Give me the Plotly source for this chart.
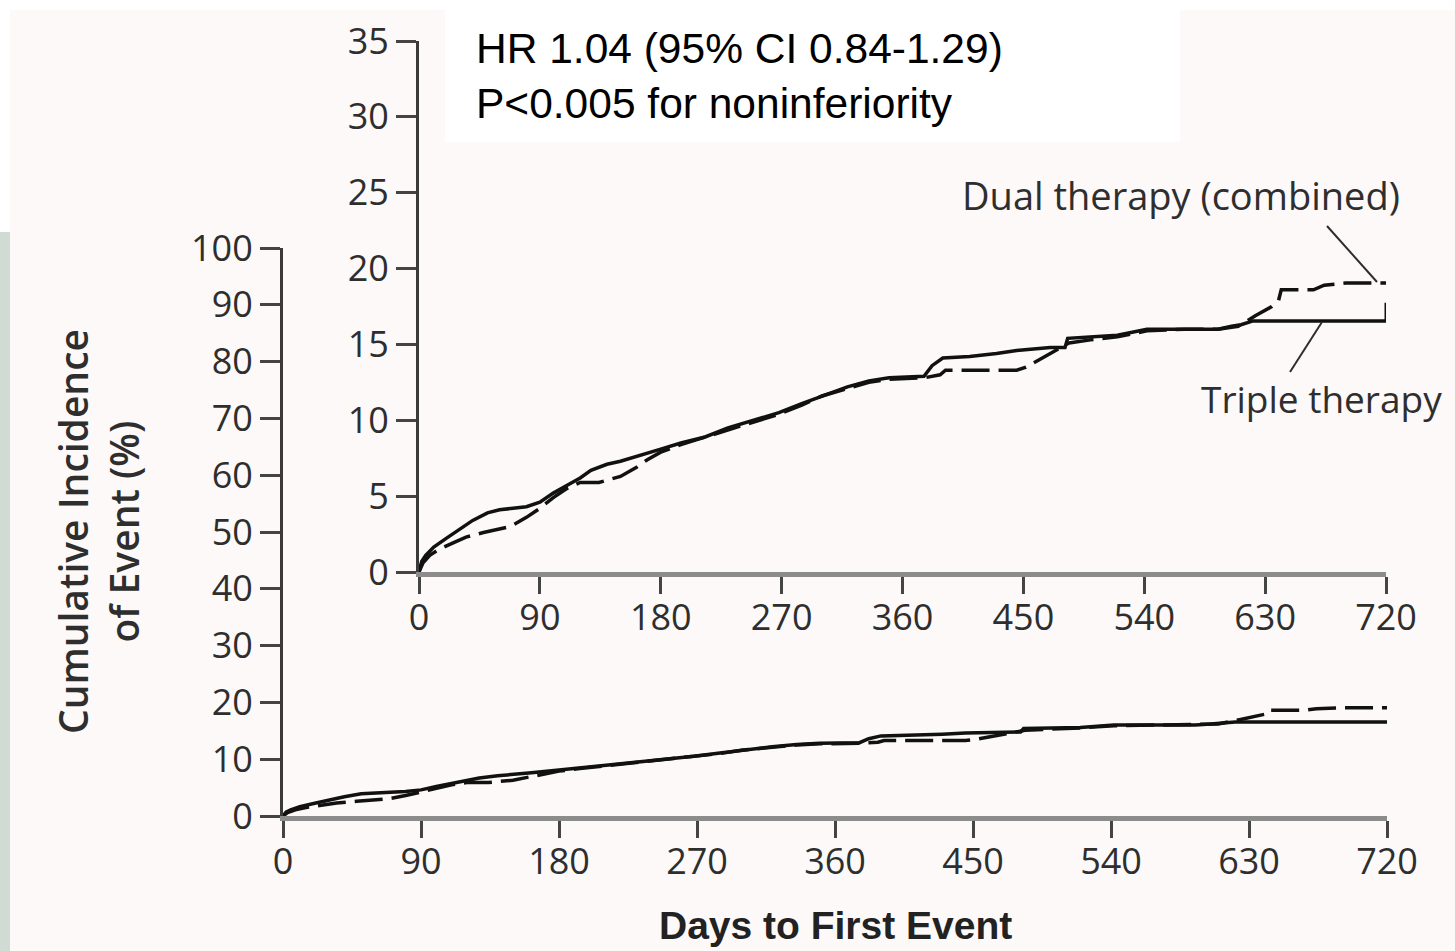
import plotly.graph_objects as go

# ---- data: cumulative incidence of the primary event (%) by day ----
triple_days = [0, 2, 5, 11, 20, 30, 40, 51, 60, 70,
               80, 90, 100, 110, 120, 128, 140, 150, 162, 180,
               195, 213, 230, 250, 268, 285, 300, 319, 335, 350,
               376, 382, 390, 410, 430, 445, 470, 481, 483, 500,
               520, 542, 570, 595, 605, 612, 621, 720]
triple_pct = [0, 0.7, 1.1, 1.65, 2.2, 2.8, 3.4, 3.9, 4.1, 4.2,
              4.3, 4.6, 5.2, 5.7, 6.2, 6.7, 7.1, 7.3, 7.6, 8.1,
              8.5, 8.9, 9.5, 10.0, 10.5, 11.1, 11.6, 12.2, 12.6, 12.8,
              12.9, 13.6, 14.1, 14.2, 14.4, 14.6, 14.8, 14.8, 15.4, 15.5,
              15.6, 16.0, 16.0, 16.0, 16.2, 16.3, 16.55, 16.55]

dual_days = [0, 3, 8, 15, 25, 35, 48, 58, 68, 80,
             90, 100, 110, 120, 134, 150, 162, 170, 180, 195,
             213, 230, 250, 268, 285, 300, 319, 335, 350, 376,
             388, 392, 420, 445, 452, 468, 484, 500, 520, 542,
             570, 595, 610, 623, 635, 640, 642, 666, 674, 690,
             720]
dual_pct = [0, 0.6, 1.1, 1.5, 1.9, 2.3, 2.6, 2.8, 3.0, 3.6,
            4.2, 4.9, 5.5, 5.9, 5.9, 6.3, 6.9, 7.4, 7.9, 8.4,
            8.9, 9.4, 9.9, 10.4, 11.0, 11.6, 12.1, 12.5, 12.7, 12.8,
            13.0, 13.3, 13.3, 13.3, 13.5, 14.3, 15.1, 15.3, 15.5, 15.9,
            16.0, 16.0, 16.2, 16.9, 17.5, 17.9, 18.6, 18.6, 18.9, 19.05,
            19.05]

x_ticks = [0, 90, 180, 270, 360, 450, 540, 630, 720]
main_y_ticks = list(range(0, 101, 10))
inset_y_ticks = list(range(0, 36, 5))

series_labels = ["Dual therapy (combined)", "Triple therapy"]
stats_text = "HR 1.04 (95% CI 0.84-1.29)<br>P<0.005 for noninferiority"
x_title = "Days to First Event"
y_title = "Cumulative Incidence<br>of Event (%)"

# ---- page geometry (pixels) ----
W, H = 1455, 951


def px(x):
    return x / W


def py(y):
    return 1 - y / H


BG = "#fcf9f8"
INK = "#111111"
TEXT = "#2e2e2e"
TICK_FONT = dict(family="Open Sans", size=36, color=TEXT)

fig = go.Figure()

solid = dict(color=INK, width=3.5)
dashed = dict(color=INK, width=3.5, dash="28px,9px")

# main panel (0-100 %)
fig.add_trace(go.Scatter(x=triple_days, y=triple_pct, mode="lines", line=solid,
                         xaxis="x", yaxis="y", showlegend=False, hoverinfo="skip"))
fig.add_trace(go.Scatter(x=dual_days, y=dual_pct, mode="lines", line=dashed,
                         xaxis="x", yaxis="y", showlegend=False, hoverinfo="skip"))

# inset panel (0-35 %)
fig.add_trace(go.Scatter(x=triple_days, y=triple_pct, mode="lines", line=solid,
                         xaxis="x2", yaxis="y2", showlegend=False, hoverinfo="skip"))
fig.add_trace(go.Scatter(x=dual_days, y=dual_pct, mode="lines", line=dashed,
                         xaxis="x2", yaxis="y2", showlegend=False, hoverinfo="skip"))
# censoring tick at the end of follow-up for triple therapy
fig.add_trace(go.Scatter(x=[triple_days[-1], triple_days[-1]],
                         y=[triple_pct[-1], triple_pct[-1] + 1.2],
                         mode="lines", line=dict(color=INK, width=3),
                         xaxis="x2", yaxis="y2", showlegend=False, hoverinfo="skip"))

xaxis_common = dict(range=[0, 720], tickvals=x_ticks, ticks="outside", ticklen=17,
                    tickwidth=3, tickcolor="#444444", showline=True,
                    linecolor="#8c8c8c", linewidth=5, showgrid=False, zeroline=False,
                    tickfont=TICK_FONT, ticklabelstandoff=-7,
                    fixedrange=True, automargin=False)
yaxis_common = dict(ticks="outside", ticklen=20, tickwidth=3, tickcolor="#444444",
                    showline=True, linecolor="#3a3a3a", linewidth=3, showgrid=False,
                    zeroline=False, tickfont=TICK_FONT, fixedrange=True, automargin=False)

shapes = [
    # white margins round the figure panel
    dict(type="rect", xref="paper", yref="paper", x0=0, x1=1, y0=py(10), y1=1,
         fillcolor="#ffffff", line=dict(width=0), layer="below"),
    dict(type="rect", xref="paper", yref="paper", x0=0, x1=px(10), y0=py(232), y1=1,
         fillcolor="#ffffff", line=dict(width=0), layer="below"),
    dict(type="rect", xref="paper", yref="paper", x0=0, x1=px(10), y0=0, y1=py(232),
         fillcolor="#cfdbd3", line=dict(width=0), layer="below"),
    # white box behind the statistics
    dict(type="rect", xref="paper", yref="paper", x0=px(445), x1=px(1180),
         y0=py(142), y1=py(10), fillcolor="#ffffff", line=dict(width=0), layer="below"),
    # leader lines for the curve labels
    dict(type="line", xref="paper", yref="paper", x0=px(1327), y0=py(226),
         x1=px(1377), y1=py(282), line=dict(color=TEXT, width=2)),
    dict(type="line", xref="paper", yref="paper", x0=px(1322), y0=py(322),
         x1=px(1290), y1=py(372), line=dict(color=TEXT, width=2)),
]

annotations = [
    dict(text=stats_text, xref="paper", yref="paper", x=px(474), y=py(76),
         xanchor="left", yanchor="middle", align="left", showarrow=False,
         font=dict(family="Liberation Sans", size=42.5, color="#000000")),
    dict(text=series_labels[0], xref="paper", yref="paper", x=px(1181), y=py(195),
         xanchor="center", yanchor="middle", showarrow=False,
         font=dict(family="Open Sans", size=38, color=TEXT)),
    dict(text=series_labels[1], xref="paper", yref="paper", x=px(1321), y=py(398),
         xanchor="center", yanchor="middle", showarrow=False,
         font=dict(family="Open Sans", size=37, color=TEXT)),
    dict(text=y_title, xref="paper", yref="paper", x=px(98), y=py(532),
         xanchor="center", yanchor="middle", textangle=-90, showarrow=False,
         font=dict(family="Open Sans", size=39, color=TEXT, weight=600)),
    dict(text=x_title, xref="paper", yref="paper", x=px(836), y=py(925),
         xanchor="center", yanchor="middle", showarrow=False,
         font=dict(family="Liberation Sans", size=39, color="#222222", weight="bold")),
]

fig.update_layout(
    width=W, height=H,
    margin=dict(l=0, r=0, t=0, b=0, pad=0, autoexpand=False),
    paper_bgcolor=BG,
    plot_bgcolor="rgba(0,0,0,0)",
    xaxis=dict(domain=[px(283), px(1387)], anchor="y", **xaxis_common),
    yaxis=dict(domain=[py(816), py(248)], anchor="x", range=[0, 100],
               tickvals=main_y_ticks, **yaxis_common),
    xaxis2=dict(domain=[px(419), px(1386)], anchor="y2", **xaxis_common),
    yaxis2=dict(domain=[py(572), py(41)], anchor="x2", range=[0, 35],
                tickvals=inset_y_ticks, **yaxis_common),
    shapes=shapes,
    annotations=annotations,
    showlegend=False,
)

fig.write_html(
    "out.html",
    config=dict(displayModeBar=False, responsive=False),
    post_script="document.body.style.margin='0';document.body.style.overflow='hidden';",
)
